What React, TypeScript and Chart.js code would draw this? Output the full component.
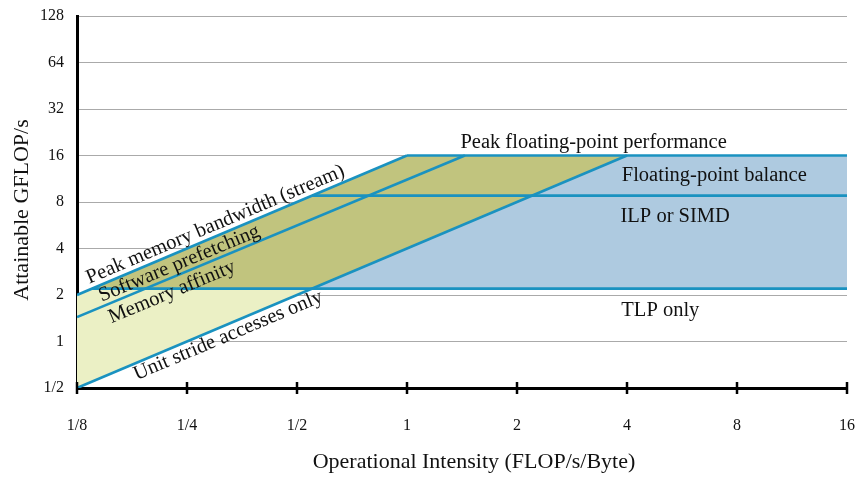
import React, { useEffect, useRef } from 'react';
import { Chart, registerables } from 'chart.js';

Chart.register(...registerables);

// ---- axis ticks ----
const xTickValues = [0.125, 0.25, 0.5, 1, 2, 4, 8, 16];
const xTickLabels = ['1/8', '1/4', '1/2', '1', '2', '4', '8', '16'];
const yTickValues = [0.5, 1, 2, 4, 8, 16, 32, 64, 128];
const yTickLabels = ['1/2', '1', '2', '4', '8', '16', '32', '64', '128'];

// ---- ceilings (x = operational intensity, y = GFLOP/s) ----
const peakBandwidthX = [0.125, 1];
const peakBandwidthY = [2, 16];
const prefetchX = [0.125, 1.44];
const prefetchY = [1.44, 16];
const unitStrideX = [0.125, 4];
const unitStrideY = [0.5, 16];
const peakFlopsX = [1, 16];
const peakFlopsY = [16, 16];
const fpBalanceX = [0.55, 16];
const fpBalanceY = [8.8, 8.8];
const tlpX = [0.1375, 16];
const tlpY = [2.2, 2.2];

// ---- shaded regions (upper / lower boundaries) ----
const lightX = [0.125, 0.1375, 0.55];
const lightUpperY = [2, 2.2, 2.2];
const lightLowerY = [0.5, 0.55, 2.2];
const oliveX = [0.1375, 0.55, 1, 4];
const oliveUpperY = [2.2, 8.8, 16, 16];
const oliveLowerY = [2.2, 2.2, 4, 16];
const blueX = [0.55, 4, 16];
const blueUpperY = [2.2, 16, 16];
const blueLowerY = [2.2, 2.2, 2.2];

// ---- labels ----
const ceilingLabelTexts = [
  'Peak memory bandwidth (stream)',
  'Software prefetching',
  'Memory affinity',
  'Unit stride accesses only',
];
const levelLabelTexts = [
  'Peak floating-point performance',
  'Floating-point balance',
  'ILP or SIMD',
  'TLP only',
];
const xTitle = 'Operational Intensity (FLOP/s/Byte)';
const yTitle = 'Attainable GFLOP/s';

const FONT = '"Liberation Serif", "Times New Roman", serif';
const LINE = '#1a92c0';
const TEXT = '#111111';

const pts = (xs: number[], ys: number[]) => xs.map((v, i) => ({ x: v, y: ys[i] }));

// placement of slanted labels (along a ceiling line)
const slanted = [
  { text: ceilingLabelTexts[0], lx: peakBandwidthX, ly: peakBandwidthY, at: 0.1369, off: -5.5 },
  { text: ceilingLabelTexts[1], lx: prefetchX, ly: prefetchY, at: 0.1478, off: -4.5 },
  { text: ceilingLabelTexts[2], lx: prefetchX, ly: prefetchY, at: 0.1483, off: 19 },
  { text: ceilingLabelTexts[3], lx: unitStrideX, ly: unitStrideY, at: 0.1751, off: 16 },
];
const flat = [
  { text: levelLabelTexts[0], x: 1.4, y: 17.9 },
  { text: levelLabelTexts[1], x: 3.87, y: 10.9 },
  { text: levelLabelTexts[2], x: 3.84, y: 5.91 },
  { text: levelLabelTexts[3], x: 3.86, y: 1.46 },
];

const textPlugin = {
  id: 'rooflineText',
  afterDraw(chart: any) {
    const { ctx, chartArea } = chart;
    const xs = chart.scales.x;
    const ys = chart.scales.y;
    ctx.save();
    // tick marks crossing the x axis
    ctx.strokeStyle = '#000';
    ctx.lineWidth = 2.5;
    xTickValues.forEach((v) => {
      const px = xs.getPixelForValue(v);
      ctx.beginPath();
      ctx.moveTo(px, chartArea.bottom - 6);
      ctx.lineTo(px, chartArea.bottom + 6);
      ctx.stroke();
    });
    ctx.fillStyle = TEXT;
    ctx.font = `20.5px ${FONT}`;
    ctx.textBaseline = 'alphabetic';
    ctx.textAlign = 'left';
    slanted.forEach((l) => {
      const x0 = xs.getPixelForValue(l.lx[0]);
      const y0 = ys.getPixelForValue(l.ly[0]);
      const x1 = xs.getPixelForValue(l.lx[1]);
      const y1 = ys.getPixelForValue(l.ly[1]);
      const ang = Math.atan2(y1 - y0, x1 - x0);
      const t = (xs.getPixelForValue(l.at) - x0) / (x1 - x0);
      const px = x0 + t * (x1 - x0);
      const py = y0 + t * (y1 - y0);
      ctx.save();
      ctx.translate(px, py);
      ctx.rotate(ang);
      ctx.fillText(l.text, 0, l.off);
      ctx.restore();
    });
    flat.forEach((l) => {
      ctx.fillText(l.text, xs.getPixelForValue(l.x), ys.getPixelForValue(l.y));
    });
    // axis titles
    ctx.font = `22px ${FONT}`;
    ctx.textAlign = 'center';
    ctx.fillText(xTitle, (chartArea.left + chartArea.right) / 2 + 12, chart.height - 9);
    ctx.save();
    ctx.translate(28, (chartArea.top + chartArea.bottom) / 2 + 8);
    ctx.rotate(-Math.PI / 2);
    ctx.fillText(yTitle, 0, 0);
    ctx.restore();
    ctx.restore();
  },
};

const fillDs = (xs: number[], ys: number[], color: string | null) => ({
  data: pts(xs, ys),
  borderWidth: 0,
  borderColor: 'rgba(0,0,0,0)',
  backgroundColor: color || 'rgba(0,0,0,0)',
  pointRadius: 0,
  fill: color ? '+1' : false,
  order: 10,
});
const lineDs = (xs: number[], ys: number[]) => ({
  data: pts(xs, ys),
  borderWidth: 2.6,
  borderColor: LINE,
  pointRadius: 0,
  fill: false,
  order: 0,
});

export default function App() {
  const ref = useRef<HTMLCanvasElement>(null);
  useEffect(() => {
    document.body.style.margin = '0';
    const chart = new Chart(ref.current as HTMLCanvasElement, {
      type: 'line',
      data: {
        datasets: [
          fillDs(lightX, lightUpperY, '#ebf0c5'),
          fillDs(lightX, lightLowerY, null),
          fillDs(oliveX, oliveUpperY, '#c1c47e'),
          fillDs(oliveX, oliveLowerY, null),
          fillDs(blueX, blueUpperY, '#aecae0'),
          fillDs(blueX, blueLowerY, null),
          lineDs(peakBandwidthX, peakBandwidthY),
          lineDs(prefetchX, prefetchY),
          lineDs(unitStrideX, unitStrideY),
          lineDs(peakFlopsX, peakFlopsY),
          lineDs(fpBalanceX, fpBalanceY),
          lineDs(tlpX, tlpY),
        ] as any,
      },
      options: {
        animation: false,
        responsive: true,
        maintainAspectRatio: false,
        layout: { padding: { top: 16, right: 10, left: 0, bottom: 0 } },
        plugins: { legend: { display: false }, tooltip: { enabled: false } },
        elements: { line: { tension: 0 } },
        scales: {
          x: {
            type: 'logarithmic',
            min: 0.125,
            max: 16,
            z: 1,
            afterFit: (s: any) => {
              s.height = 89;
              s.paddingLeft = 0;
              s.paddingRight = 0;
            },
            afterBuildTicks: (s: any) => { s.ticks = xTickValues.map((value) => ({ value })); },
            grid: { display: false, drawTicks: false },
            border: { display: true, color: '#000', width: 3 },
            ticks: {
              autoSkip: false,
              maxRotation: 0,
              padding: 28,
              color: TEXT,
              font: { family: FONT, size: 16 },
              callback: (_v: any, i: number) => xTickLabels[i],
            },
          },
          y: {
            type: 'logarithmic',
            min: 0.5,
            max: 128,
            z: 1,
            afterFit: (s: any) => {
              s.width = 77;
              s.paddingTop = 0;
              s.paddingBottom = 0;
            },
            afterBuildTicks: (s: any) => { s.ticks = yTickValues.map((value) => ({ value })); },
            grid: { color: '#aaaaaa', lineWidth: 1, drawTicks: false },
            border: { display: true, color: '#000', width: 3 },
            ticks: {
              autoSkip: false,
              padding: 13,
              color: TEXT,
              font: { family: FONT, size: 16 },
              callback: (_v: any, i: number) => yTickLabels[i],
            },
          },
        },
      } as any,
      plugins: [textPlugin],
    });
    return () => chart.destroy();
  }, []);
  return (
    <div style={{ width: 857, height: 477, position: 'relative' }}>
      <canvas ref={ref} />
    </div>
  );
}
